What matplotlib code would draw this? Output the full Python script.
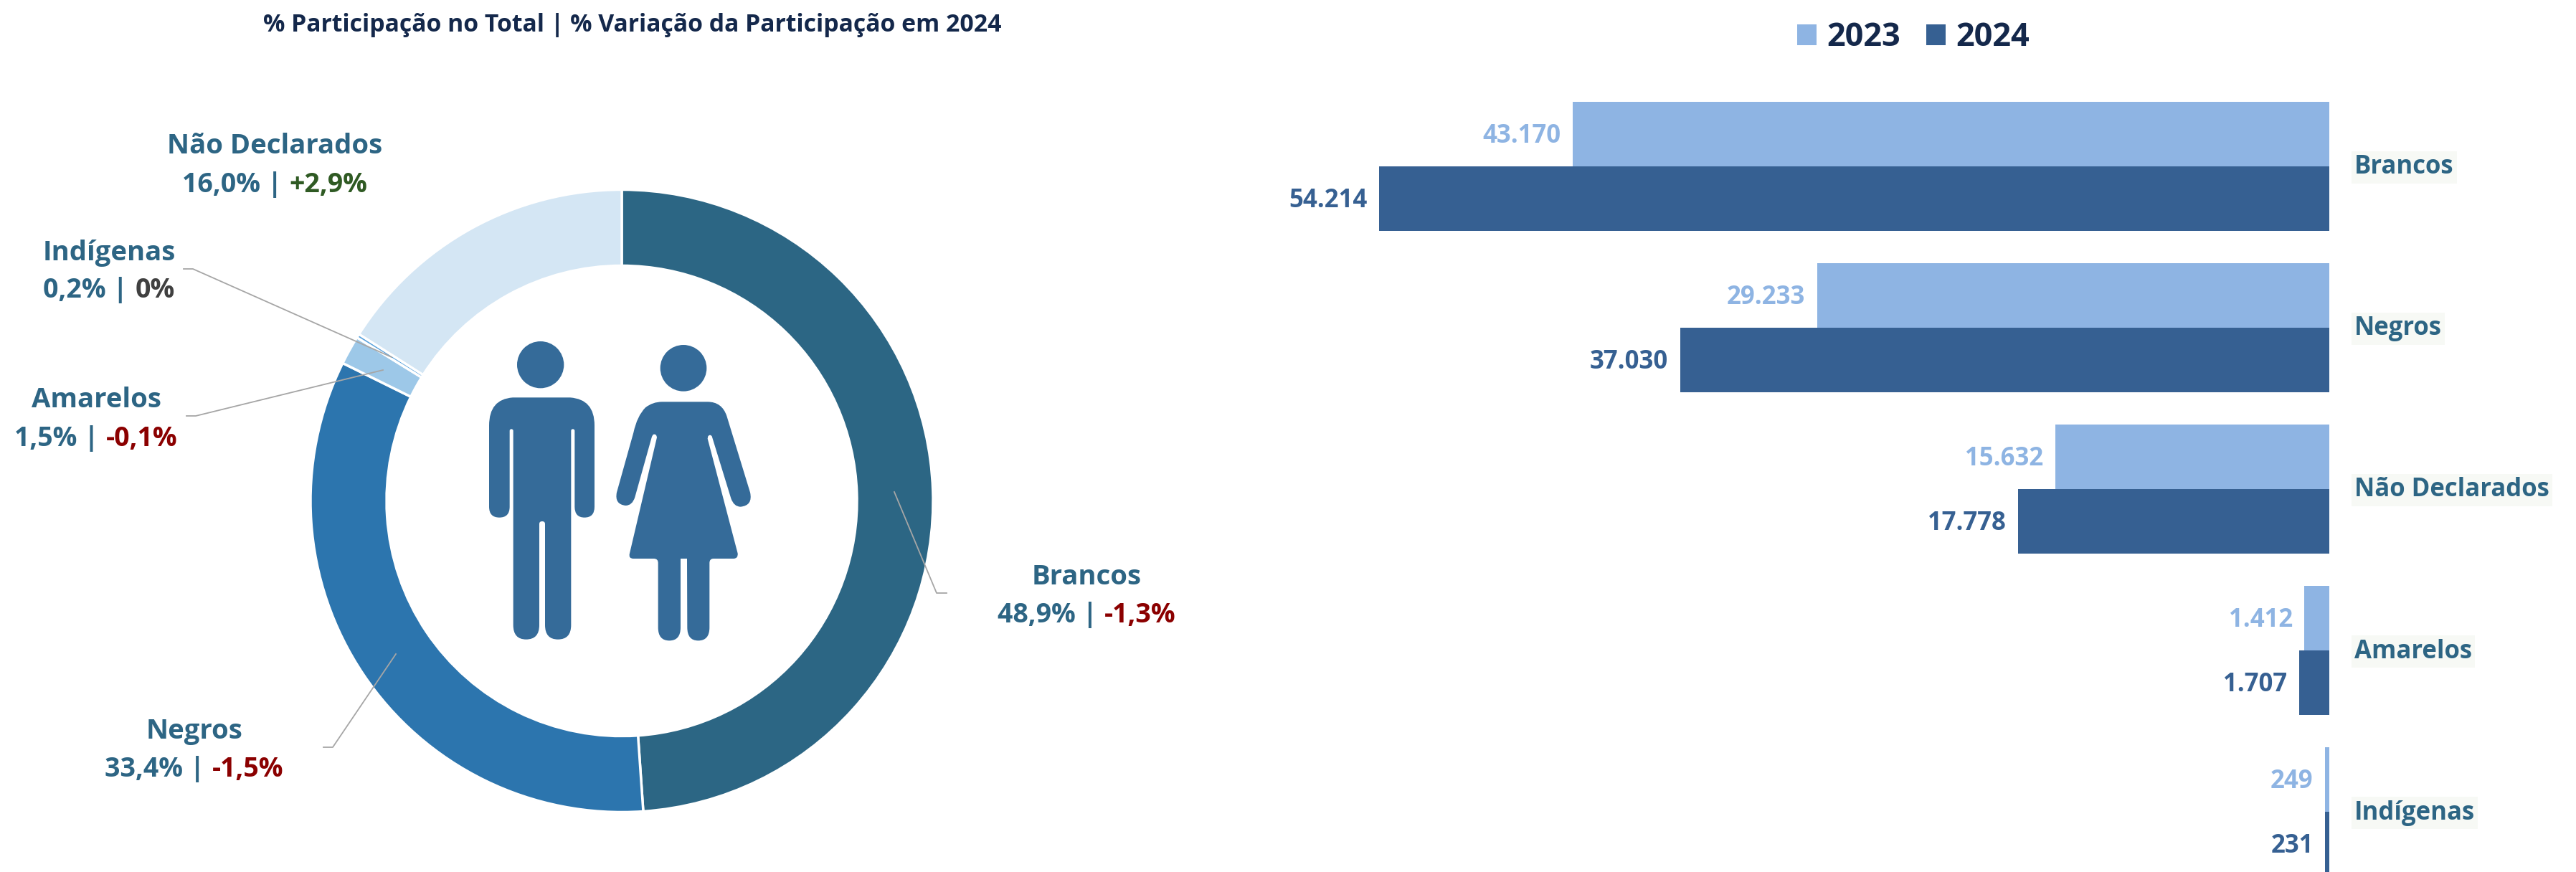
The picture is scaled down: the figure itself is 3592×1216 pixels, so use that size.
import matplotlib
matplotlib.use('Agg')
import matplotlib.pyplot as plt
from matplotlib.patches import PathPatch, Circle
from matplotlib.path import Path
from matplotlib.transforms import ScaledTranslation

plt.rcParams['font.family'] = ['Open Sans', 'DejaVu Sans']
plt.rcParams['font.weight'] = 'bold'

W, H = 3592, 1216

# donut
donut_names = ['Brancos', 'Negros', 'Amarelos', 'Indígenas', 'Não Declarados']
donut_share = [48.9, 33.4, 1.5, 0.2, 16.0]
donut_share_txt = ['48,9%', '33,4%', '1,5%', '0,2%', '16,0%']
donut_var_txt = ['-1,3%', '-1,5%', '-0,1%', '0%', '+2,9%']
donut_colors = ['#2C6684', '#2C75AE', '#9DC8E8', '#5BA3DD', '#D4E6F4']
var_colors = ['#8B0000', '#8B0000', '#8B0000', '#404040', '#2F5A23']

# bars
categories = ['Brancos', 'Negros', 'Não Declarados', 'Amarelos', 'Indígenas']
values_2023 = [43170, 29233, 15632, 1412, 249]
values_2024 = [54214, 37030, 17778, 1707, 231]
labels_2023 = ['43.170', '29.233', '15.632', '1.412', '249']
labels_2024 = ['54.214', '37.030', '17.778', '1.707', '231']

TEAL = '#2D6584'
NAVY = '#14284B'
LIGHT = '#8EB4E3'
DARK = '#366092'
ICON = '#356B99'
LEADER = '#A6A6A6'

fig = plt.figure(figsize=(W / 100, H / 100), dpi=100, facecolor='white')


def px_axes(left, top, right, bottom):
    return fig.add_axes([left / W, 1 - bottom / H, (right - left) / W, (bottom - top) / H])


# donut chart
cx, cy, R = 867, 698.5, 434
ax_d = px_axes(cx - R, cy - R, cx + R, cy + R)
ax_d.pie(donut_share, colors=donut_colors, startangle=90, counterclock=False, radius=1,
         wedgeprops=dict(width=(434 - 328) / 434, edgecolor='white', linewidth=2.5))
ax_d.set_xlim(-1, 1)
ax_d.set_ylim(-1, 1)

# bar chart, zero on the right
px_per_unit = 1325 / 54214
bar_left, bar_right = 1880, 3248
step = 225
ax_b = px_axes(bar_left, 0, bar_right, H)
ypos = list(range(len(categories)))
bars_23 = ax_b.barh([y - 0.2 for y in ypos], values_2023, height=0.4, color=LIGHT, label='2023')
bars_24 = ax_b.barh([y + 0.2 for y in ypos], values_2024, height=0.4, color=DARK, label='2024')
ax_b.set_xlim((bar_right - bar_left) / px_per_unit, 0)
ax_b.set_ylim((H - 232) / step, -232 / step)
lab_23 = ax_b.bar_label(bars_23, labels=labels_2023, padding=12, color=LIGHT, fontsize=25, fontweight='bold')
lab_24 = ax_b.bar_label(bars_24, labels=labels_2024, padding=12, color=DARK, fontsize=25, fontweight='bold')
for lab in list(lab_23) + list(lab_24):
    lab.xyann = (lab.xyann[0], -2)
ax_b.set_yticks(ypos)
ax_b.set_yticklabels(categories, fontsize=25, fontweight='bold', color=TEAL)
ax_b.yaxis.tick_right()
ax_b.tick_params(axis='y', length=0, pad=25)
ax_b.set_xticks([])
for s in ax_b.spines.values():
    s.set_visible(False)
ax_b.patch.set_alpha(0)
for t in ax_b.get_yticklabels():
    t.set_bbox(dict(facecolor='#F7F9F5', edgecolor='none', pad=3))
    t.set_transform(t.get_transform() + ScaledTranslation(0, 3 / 100, fig.dpi_scale_trans))

fig.legend(handles=[bars_23, bars_24], labels=['2023', '2024'], ncols=2, frameon=False,
           loc='center', bbox_to_anchor=(2668 / W, 1 - 53 / H), prop=dict(size=32.5, weight='bold'),
           labelcolor=NAVY, handlelength=0.6, handleheight=0.6, handletextpad=0.32, columnspacing=0.79,
           borderpad=0, borderaxespad=0)

# overlay in image pixels for the texts, leader lines and icons
ov = fig.add_axes([0, 0, 1, 1])
ov.set_xlim(0, W)
ov.set_ylim(H, 0)
ov.axis('off')

ov.text(882, 35, '% Participação no Total | % Variação da Participação em 2024', color=NAVY,
        fontsize=24.3, ha='center', va='center')

leaders = {
    'Brancos': [(1247, 686), (1306, 827), (1320, 827)],
    'Negros': [(552, 912), (464, 1042), (451, 1042)],
    'Amarelos': [(534, 516), (273, 580), (260, 580)],
    'Indígenas': [(546, 498), (269, 375), (256, 375)],
}
for pts in leaders.values():
    ov.plot([p[0] for p in pts], [p[1] for p in pts], color=LEADER, lw=1.3)

label_pos = {
    'Brancos': (1515, 805, 858),
    'Negros': (271, 1020, 1073),
    'Amarelos': (134, 558, 612),
    'Indígenas': (152, 353, 405),
    'Não Declarados': (383, 204, 258),
}
renderer = fig.canvas.get_renderer()
for i, name in enumerate(donut_names):
    x, y1, y2 = label_pos[name]
    ov.text(x, y1, name, color=TEAL, fontsize=27.5, ha='center', va='center')
    # second line has two colours, so measure both pieces and centre them together
    t1 = ov.text(0, y2, donut_share_txt[i] + ' |', color=TEAL, fontsize=27, ha='left', va='center')
    t2 = ov.text(0, y2, donut_var_txt[i], color=var_colors[i], fontsize=27, ha='left', va='center')
    w1 = t1.get_window_extent(renderer).width
    w2 = t2.get_window_extent(renderer).width
    gap = 10
    start = x - (w1 + gap + w2) / 2
    t1.set_x(start)
    t2.set_x(start + w1 + gap)


def icon_path(segments):
    verts, codes = [], []
    for seg in segments:
        if len(seg) == 1:
            verts.append(seg[0])
            codes.append(Path.LINETO if verts[:-1] else Path.MOVETO)
        else:
            verts.extend(seg)
            codes.extend([Path.CURVE3, Path.CURVE3])
    verts.append(verts[0])
    codes.append(Path.CLOSEPOLY)
    # traced on a 3x crop starting at (640, 440)
    return Path([(640 + a / 3, 440 + b / 3) for a, b in verts], codes)


man = [
    [(225, 343)], [(465, 343)], [(567, 350), (567, 460)], [(567, 800)], [(567, 845), (525, 845)],
    [(484, 845), (484, 800)], [(484, 482)], [(484, 475), (476, 475)], [(469, 475), (469, 482)],
    [(469, 1295)], [(469, 1355), (414, 1355)], [(360, 1355), (360, 1295)], [(360, 872)],
    [(360, 861), (348, 861)], [(336, 861), (336, 872)], [(336, 1295)], [(336, 1355), (281, 1355)],
    [(227, 1355), (227, 1295)], [(227, 482)], [(227, 475), (219, 475)], [(212, 475), (212, 482)],
    [(212, 800)], [(212, 845), (169, 845)], [(126, 845), (126, 800)], [(126, 460)],
    [(126, 350), (225, 343)],
]
woman = [
    [(850, 361)], [(1040, 361)], [(1100, 361), (1120, 420)], [(1218, 740)], [(1230, 795), (1178, 800)],
    [(1150, 800), (1138, 765)], [(1058, 505)], [(1050, 495), (1042, 505)], [(1040, 515)], [(1166, 995)],
    [(1168, 1017), (1148, 1017)], [(1065, 1017)], [(1048, 1017), (1048, 1035)], [(1048, 1305)],
    [(1048, 1360), (1001, 1360)], [(955, 1360), (955, 1305)], [(954, 1017)], [(927, 1017)], [(927, 1305)],
    [(927, 1360), (880, 1360)], [(833, 1360), (833, 1305)], [(833, 1035)], [(833, 1017), (815, 1017)],
    [(730, 1017)], [(708, 1017), (714, 995)], [(828, 510)], [(826, 495), (815, 497)], [(810, 497), (806, 510)],
    [(736, 760)], [(725, 795), (697, 795)], [(650, 790), (660, 740)], [(730, 490)], [(745, 420), (780, 385)],
    [(810, 361), (850, 361)],
]
ov.add_patch(PathPatch(icon_path(man), facecolor=ICON, edgecolor='none'))
ov.add_patch(PathPatch(icon_path(woman), facecolor=ICON, edgecolor='none'))
ov.add_patch(Circle((640 + 341 / 3, 440 + 206 / 3), 98 / 3, facecolor=ICON, edgecolor='none'))
ov.add_patch(Circle((640 + 939 / 3, 440 + 220 / 3), 97 / 3, facecolor=ICON, edgecolor='none'))

fig.savefig('out.png', dpi=100)
